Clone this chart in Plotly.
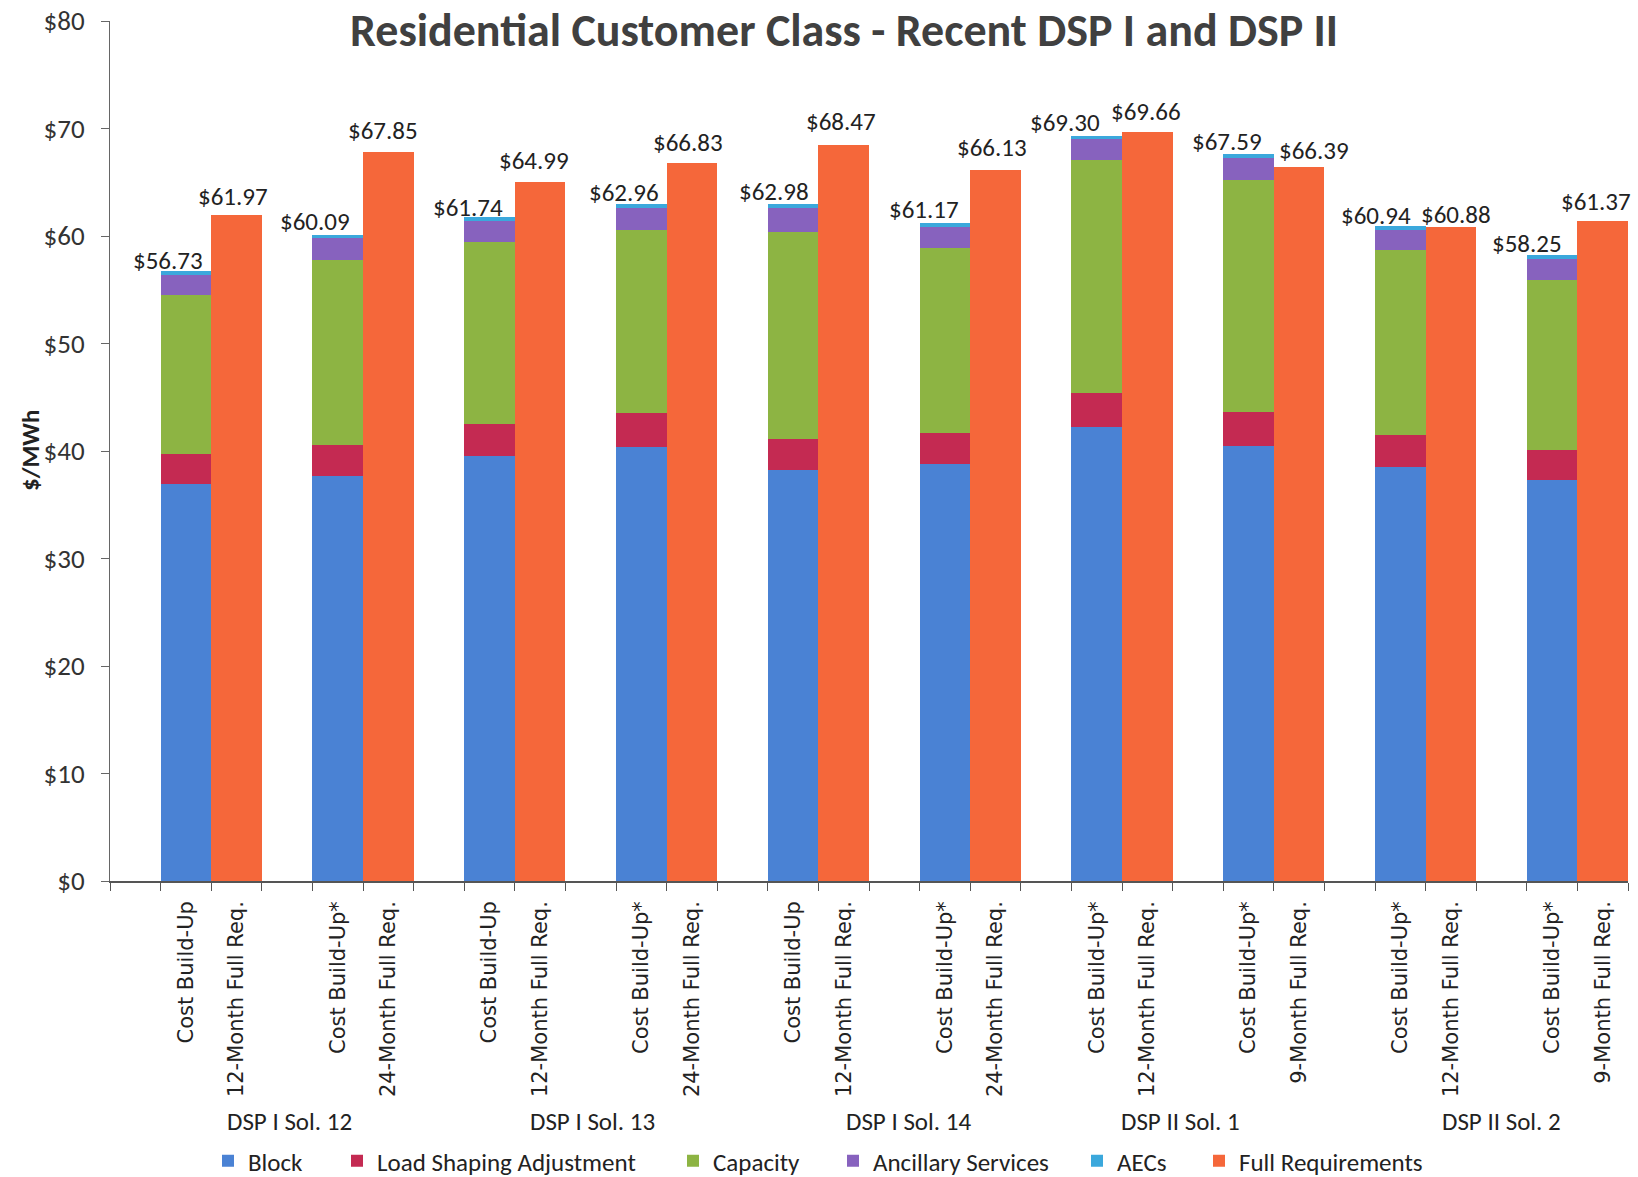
import plotly.graph_objects as go

# ---------------- data ----------------
solicitations = ["DSP I Sol. 12", "DSP I Sol. 13", "DSP I Sol. 14", "DSP II Sol. 1", "DSP II Sol. 2"]
cost_labels = ["Cost Build-Up", "Cost Build-Up*", "Cost Build-Up", "Cost Build-Up*", "Cost Build-Up",
               "Cost Build-Up*", "Cost Build-Up*", "Cost Build-Up*", "Cost Build-Up*", "Cost Build-Up*"]
fr_labels = ["12-Month Full Req.", "24-Month Full Req.", "12-Month Full Req.", "24-Month Full Req.",
             "12-Month Full Req.", "24-Month Full Req.", "12-Month Full Req.", "9-Month Full Req.",
             "12-Month Full Req.", "9-Month Full Req."]

block = [36.9, 37.7, 39.5, 40.4, 38.2, 38.8, 42.2, 40.5, 38.5, 37.3]
load_shaping = [2.8, 2.9, 3.0, 3.1, 2.9, 2.9, 3.2, 3.1, 3.0, 2.8]
capacity = [14.8, 17.2, 16.9, 17.1, 19.3, 17.2, 21.7, 21.6, 17.2, 15.8]
ancillary = [1.9, 2.0, 2.0, 2.0, 2.2, 1.9, 1.9, 2.1, 1.9, 2.0]
aecs = [0.33, 0.29, 0.34, 0.36, 0.38, 0.37, 0.30, 0.29, 0.34, 0.35]
cost_totals = [56.73, 60.09, 61.74, 62.96, 62.98, 61.17, 69.30, 67.59, 60.94, 58.25]
full_req = [61.97, 67.85, 64.99, 66.83, 68.47, 66.13, 69.66, 66.39, 60.88, 61.37]

y_ticks = [0, 10, 20, 30, 40, 50, 60, 70, 80]

# ---------------- styling / label nudges (pixels) ----------------
cost_label_dx = [-18, -23, -22, -17, -19, -21, -32, -22, -24, -25]
cost_label_dy = [-7, -4, -8, -6, -5, -4, -4, -5, -7, -6]
fr_label_dx = [-4, -5, -6, -4, -3, -4, -1, 15, 5, -7]
fr_label_dy = [1, 4, 4, 3, 6, 5, 3, -1, -5, 2]
group_label_dx = [2, 2, 14, -17, 0]

n = len(block)
x_cost = [3 * i + 1.5 for i in range(n)]
x_fr = [3 * i + 2.5 for i in range(n)]

L, R, T, B = 110, 10, 21, 296
PW = 1638 - L - R
PH = 1177 - T - B

NUM_FONT = "Carlito, Lato, sans-serif"
CAT_FONT = "DejaVu Sans, Verdana, sans-serif"

colors = {
    "Block": "#4A82D4",
    "Load Shaping Adjustment": "#C42A52",
    "Capacity": "#8DB443",
    "Ancillary Services": "#8762BE",
    "AECs": "#3BA8DC",
    "Full Requirements": "#F5673A",
}

fig = go.Figure()
stack = [("Block", block), ("Load Shaping Adjustment", load_shaping), ("Capacity", capacity),
         ("Ancillary Services", ancillary), ("AECs", aecs)]
legend_names = ["legend", "legend2", "legend3", "legend4", "legend5", "legend6"]
for k, (name, vals) in enumerate(stack):
    fig.add_trace(go.Bar(x=x_cost, y=vals, name=name, width=1.0,
                         marker=dict(color=colors[name], line=dict(width=0)),
                         legend=legend_names[k]))
fig.add_trace(go.Bar(x=x_fr, y=full_req, name="Full Requirements", width=1.0,
                     marker=dict(color=colors["Full Requirements"], line=dict(width=0)),
                     legend=legend_names[5]))

# data labels
for i in range(n):
    fig.add_annotation(x=x_cost[i], y=cost_totals[i], text=f"${cost_totals[i]:.2f}", showarrow=False,
                       yanchor="bottom", xanchor="center", xshift=cost_label_dx[i], yshift=cost_label_dy[i],
                       font=dict(family=NUM_FONT, size=25, color="#222"))
    fig.add_annotation(x=x_fr[i], y=full_req[i], text=f"${full_req[i]:.2f}", showarrow=False,
                       yanchor="bottom", xanchor="center", xshift=fr_label_dx[i], yshift=fr_label_dy[i],
                       font=dict(family=NUM_FONT, size=25, color="#222"))

# solicitation group labels
for k, s in enumerate(solicitations):
    fig.add_annotation(x=6 * k + 3.5, xref="x", y=(T + PH - 1121) / PH, yref="paper", text=s,
                       showarrow=False, yanchor="middle", xanchor="center", xshift=group_label_dx[k],
                       font=dict(family=NUM_FONT, size=25, color="#222"))

# y axis title
fig.add_annotation(x=(30 - L) / PW, xref="paper", y=(T + PH - 451) / PH, yref="paper",
                   text="<b>$/MWh</b>", textangle=-90, showarrow=False,
                   xanchor="center", yanchor="middle",
                   font=dict(family=NUM_FONT, size=25, color="#222"))

# chart title
fig.add_annotation(x=(844 - L) / PW, xref="paper", y=1 + (T - 0) / PH, yref="paper",
                   text="<b>Residential Customer Class - Recent DSP I and DSP II</b>",
                   showarrow=False, yanchor="top", xanchor="center",
                   font=dict(family=NUM_FONT, size=46, color="#404040"))

tickvals = []
ticktext = []
for i in range(n):
    tickvals += [x_cost[i], x_fr[i]]
    ticktext += [cost_labels[i], fr_labels[i]]

fig.update_layout(
    width=1638, height=1177,
    barmode="stack",
    plot_bgcolor="white", paper_bgcolor="white",
    margin=dict(l=L, r=R, t=T, b=B, autoexpand=False),
    xaxis=dict(range=[0, 30], tickmode="array", tickvals=tickvals, ticktext=ticktext,
               tickangle=-90, ticks="outside", ticklen=10, tickcolor="rgba(0,0,0,0)",
               tickfont=dict(family=CAT_FONT, size=21, color="#222"),
               showline=True, linecolor="#555", linewidth=1.5, showgrid=False, zeroline=False,
               minor=dict(ticks="outside", dtick=1, tick0=0, ticklen=8, tickcolor="#555",
                          tickwidth=1, showgrid=False)),
    yaxis=dict(range=[0, 80], tickmode="array", tickvals=y_ticks,
               ticktext=[f"${v}" for v in y_ticks], ticks="outside", ticklen=8,
               tickcolor="#666", showline=True, linecolor="#666", linewidth=1,
               showgrid=False, zeroline=False, ticklabelstandoff=11,
               tickfont=dict(family=NUM_FONT, size=27, color="#333")),
    showlegend=True,
)

legend_x_px = [208, 337, 673, 833, 1077, 1199]
for ln, px in zip(legend_names, legend_x_px):
    fig.update_layout({ln: dict(orientation="h", x=(px - L) / PW, xanchor="left",
                                y=(T + PH - 1161) / PH, yanchor="middle", bgcolor="rgba(0,0,0,0)",
                                itemwidth=30, font=dict(family=NUM_FONT, size=25, color="#222"))})

fig.write_html("out.html")
